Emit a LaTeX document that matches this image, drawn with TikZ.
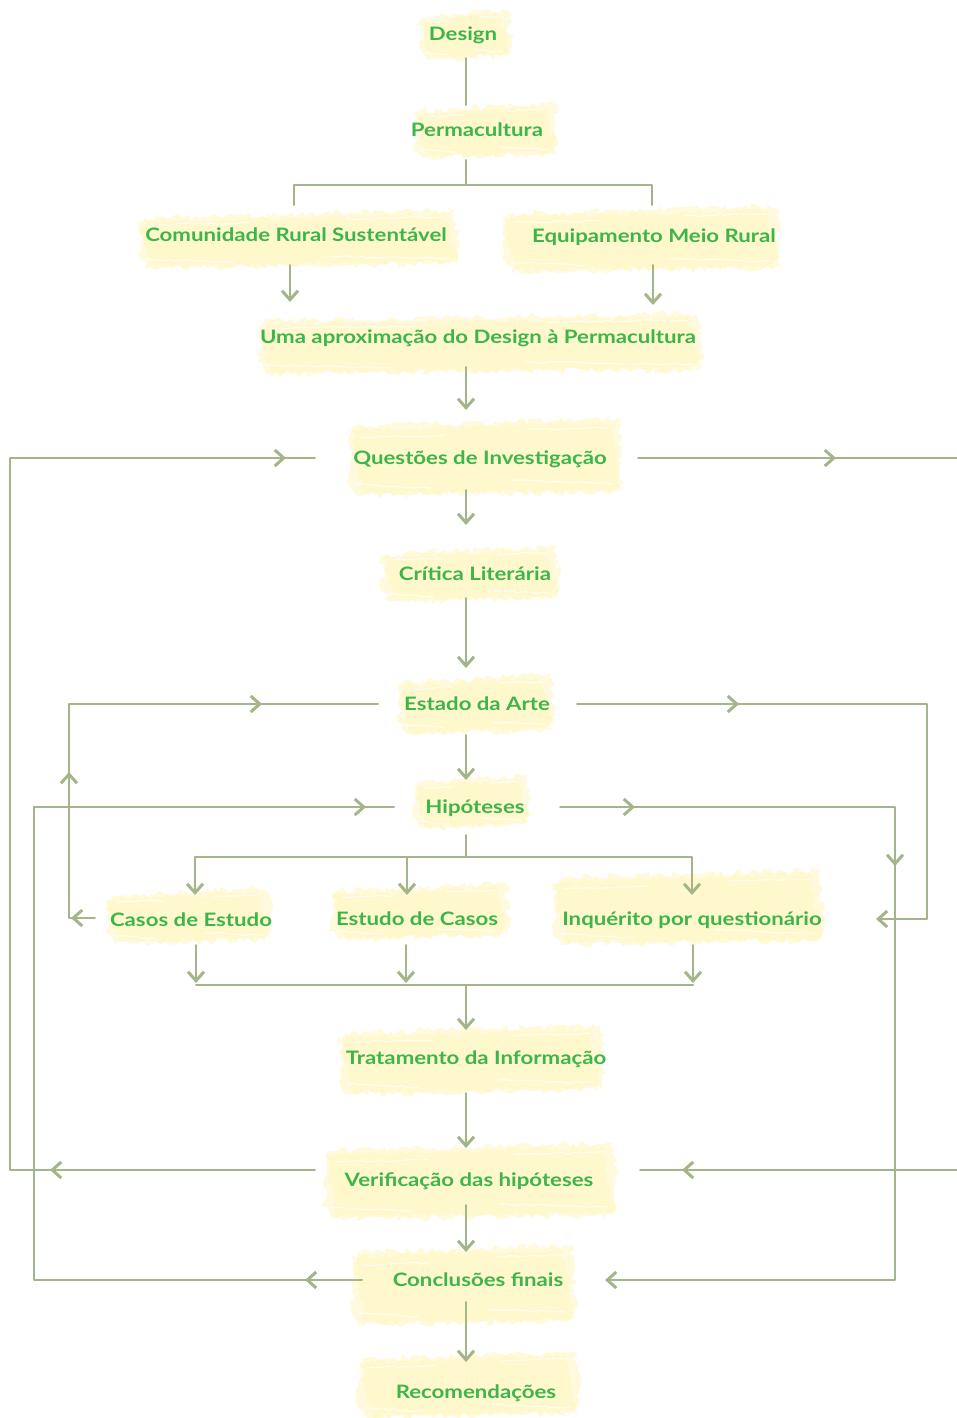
\documentclass[tikz,border=0pt]{standalone}
\usepackage{fontspec}
\setmainfont{Lato}
\newfontfamily\lblfont{Lato}[FakeStretch=1.2]
\usetikzlibrary{arrows.meta,decorations.pathmorphing,decorations.markings,calc}
\definecolor{txtg}{HTML}{3CB64A}
\definecolor{lineg}{HTML}{A4B689}
\definecolor{blobc}{HTML}{FFF4B5}
\pgfdeclarelayer{bg}
\pgfsetlayers{bg,main}
\tikzset{
  chev/.tip={Straight Barb[length=9pt,width=16pt,line width=3pt]},
  lbl/.style={font=\lblfont\bfseries\fontsize{18.5}{20}\selectfont, text=txtg, inner sep=0pt, text height=13pt, text depth=0pt},
  conn/.style={draw=lineg, color=lineg, line width=2pt, line cap=round, line join=round},
  markat/.style={postaction={decorate,decoration={markings,mark=at position #1 with {\arrow{chev}}}}},
  blobA/.style={fill=blobc, fill opacity=0.45, decorate, decoration={random steps,segment length=4pt,amplitude=3.5pt}},
  blobB/.style={fill=blobc, fill opacity=0.4, decorate, decoration={random steps,segment length=3pt,amplitude=3pt}},
  streak/.style={draw=white, draw opacity=0.7, line width=1.2pt, decorate, decoration={random steps,segment length=6pt,amplitude=1pt}}
}
\newcommand\myblob[4]{%
  \fill[blobA] (#1+6,#2+8) -- (#3-4,#2) -- (#3,#4-14) -- (#3-10,#4-4) -- (#1+10,#4) -- (#1,#4-12) -- cycle;
  \fill[blobB] (#1,#2+12) -- (#3-14,#2+4) -- (#3-2,#4-6) -- (#1+14,#4-2) -- cycle;
  \draw[streak] (#1+12,#2+0.25*#4-0.25*#2) -- (#1+0.35*#3-0.35*#1,#2+0.22*#4-0.22*#2);
  \draw[streak] (#1+0.6*#3-0.6*#1,#2+0.8*#4-0.8*#2) -- (#3-10,#2+0.84*#4-0.84*#2);
  \draw[streak] (#1+8,#2+0.85*#4-0.85*#2) -- (#1+0.3*#3-0.3*#1,#2+0.9*#4-0.9*#2);
  \draw[streak] (#1+0.65*#3-0.65*#1,#2+0.15*#4-0.15*#2) -- (#3-14,#2+0.12*#4-0.12*#2);}
\begin{document}
\begin{tikzpicture}[x=1pt,y=-1pt]
\pgfmathsetseed{7}
\useasboundingbox (0,0) rectangle (957,1418);
% nodes
\node[lbl] (des)  at (463,34)   {Design};
\node[lbl] (perm) at (477,130)  {Permacultura};
\node[lbl] (crs)  at (296,235)  {Comunidade Rural Sustentável};
\node[lbl] (eqp)  at (654,236)  {Equipamento Meio Rural};
\node[lbl] (uma)  at (478,337)  {Uma aproximação do Design à Permacultura};
\node[lbl] (ques) at (480,458)  {Questões de Investigação};
\node[lbl] (crit) at (475,574)  {Crítica Literária};
\node[lbl] (est)  at (477,704)  {Estado da Arte};
\node[lbl] (hip)  at (475,807)  {Hipóteses};
\node[lbl] (cas)  at (191,920)  {Casos de Estudo};
\node[lbl] (ecs)  at (417,919)  {Estudo de Casos};
\node[lbl] (inq)  at (692,919)  {Inquérito por questionário};
\node[lbl] (tra)  at (476,1058) {Tratamento da Informação};
\node[lbl] (ver)  at (469,1180) {Verificação das hipóteses};
\node[lbl] (con)  at (478,1280) {Conclusões finais};
\node[lbl] (rec)  at (476,1392) {Recomendações};
\coordinate (sp) at (466,0);
\coordinate (qR) at (957,458);
\coordinate (vR) at (957,1170);
% blobs
\begin{pgfonlayer}{bg}
\myblob{418}{10}{512}{60}
\myblob{413}{103}{558}{158}
\myblob{138}{210}{459}{268}
\myblob{502}{206}{781}{272}
\myblob{258}{313}{703}{374}
\myblob{348}{418}{623}{496}
\myblob{380}{546}{560}{602}
\myblob{397}{674}{555}{734}
\myblob{412}{775}{531}{829}
\myblob{105}{888}{272}{944}
\myblob{330}{883}{510}{940}
\myblob{552}{870}{824}{945}
\myblob{339}{1025}{604}{1094}
\myblob{324}{1143}{617}{1219}
\myblob{351}{1245}{576}{1325}
\myblob{357}{1351}{580}{1418}
\end{pgfonlayer}
% main spine
\draw[conn] ($(des -| sp)+(0,24)$) -- ($(perm -| sp)+(0,-25)$);
\draw[conn] ($(perm -| sp)+(0,30)$) -- ($(perm -| sp)+(0,55)$) -| ($(crs)+(-2,-30)$);
\draw[conn] ($(perm -| sp)+(0,55)$) -| ($(eqp)+(-2,-31)$);
\draw[conn,-chev] ($(crs)+(-6,30)$) -- ($(crs |- uma)+(-6,-35)$);
\draw[conn,-chev] ($(eqp)+(-1,29)$) -- ($(eqp |- uma)+(-1,-32)$);
\draw[conn,-chev] ($(uma -| sp)+(0,30)$) -- ($(ques -| sp)+(0,-48)$);
\draw[conn,-chev] ($(ques -| sp)+(0,32)$) -- ($(crit -| sp)+(0,-49)$);
\draw[conn,-chev] ($(crit -| sp)+(0,24)$) -- ($(est -| sp)+(0,-36)$);
\draw[conn,-chev] ($(est -| sp)+(0,31)$) -- ($(hip -| sp)+(0,-27)$);
% branch from Hipoteses
\draw[conn] ($(hip -| sp)+(0,28)$) -- ($(hip -| sp)+(0,50)$);
\draw[conn,-chev] ($(hip -| sp)+(0,50)$) -| ($(cas)+(4,-25)$);
\draw[conn,-chev] ($(hip -| sp)+(0,50)$) -| ($(ecs)+(-10,-24)$);
\draw[conn,-chev] ($(hip -| sp)+(0,50)$) -| ($(inq)+(0,-24)$);
% merge
\draw[conn,-chev] ($(cas)+(5,25)$) -- ($(cas)+(5,63)$);
\draw[conn,-chev] ($(ecs)+(-11,26)$) -- ($(ecs)+(-11,64)$);
\draw[conn,-chev] ($(inq)+(1,26)$) -- ($(inq)+(1,64)$);
\draw[conn] ($(cas)+(5,65)$) -- ($(inq)+(1,66)$);
\draw[conn,-chev] ($(tra -| sp)+(0,-73)$) -- ($(tra -| sp)+(0,-28)$);
\draw[conn,-chev] ($(tra -| sp)+(0,35)$) -- ($(ver -| sp)+(0,-32)$);
\draw[conn,-chev] ($(ver -| sp)+(0,25)$) -- ($(con -| sp)+(0,-28)$);
\draw[conn,-chev] ($(con -| sp)+(0,22)$) -- ($(rec -| sp)+(0,-30)$);
% loops
\draw[conn, markat=265pt, markat=-29pt] ($(ver)+(-154,-10)$) -- ($(ver)+(-459,-10)$) |- ($(ques)+(-165,0)$);
\draw[conn, markat=198pt] ($(ques)+(158,0)$) -- (qR);
\draw[conn, markat=275pt] (vR) -- ($(ver)+(171,-10)$);
\draw[conn, markat=24pt, markat=172pt, markat=-116pt] ($(cas)+(-96,-2)$) -- ($(cas)+(-122,-2)$) |- ($(est)+(-99,0)$);
\draw[conn, markat=162pt, -chev] ($(est)+(100,0)$) -| ($(inq)+(235,0)$) -- ($(inq)+(184,0)$);
\draw[conn, markat=57pt, markat=-28pt] ($(con)+(-116,0)$) -- ($(con)+(-444,0)$) |- ($(hip)+(-81,0)$);
\draw[conn, markat=75pt, markat=394pt, -chev] ($(hip)+(85,0)$) -| ($(con)+(417,0)$) -- ($(con)+(127,0)$);
\end{tikzpicture}
\end{document}
